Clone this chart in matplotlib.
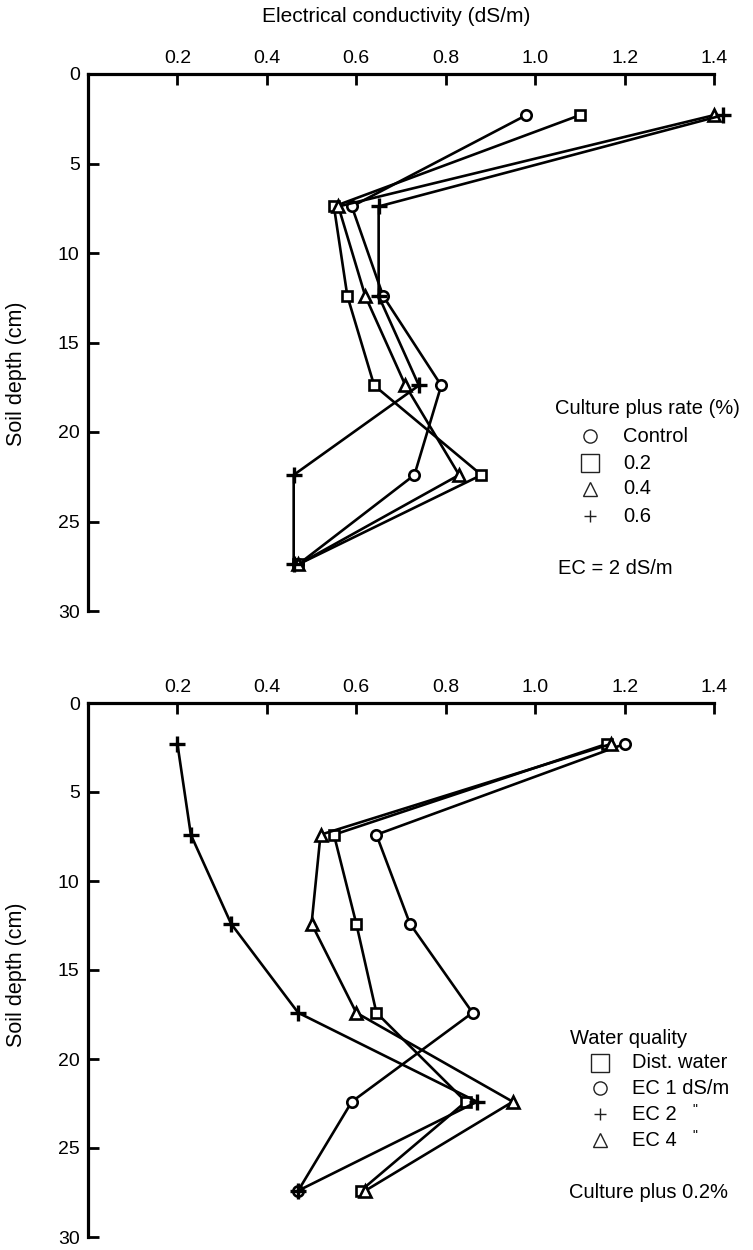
import matplotlib
matplotlib.use("Agg")
import matplotlib.pyplot as plt
from matplotlib.lines import Line2D

plt.rcParams['font.family'] = ['Liberation Sans', 'DejaVu Sans']

depth = [2.3, 7.4, 12.4, 17.4, 22.4, 27.4]

# top panel: culture plus rate, EC = 2 dS/m
top_labels = ['Control', '0.2', '0.4', '0.6']
top_markers = ['o', 's', '^', '+']
top_control = [0.98, 0.59, 0.66, 0.79, 0.73, 0.47]
top_02 = [1.10, 0.55, 0.58, 0.64, 0.88, 0.47]
top_04 = [1.40, 0.56, 0.62, 0.71, 0.83, 0.47]
top_06 = [1.42, 0.65, 0.65, 0.74, 0.46, 0.46]

# bottom panel: water quality, culture plus 0.2%
bot_labels = ['Dist. water', 'EC 1 dS/m', 'EC 2', 'EC 4']
bot_markers = ['s', 'o', '+', '^']
bot_dist = [1.16, 0.55, 0.60, 0.645, 0.845, 0.61]
bot_ec1 = [1.20, 0.645, 0.72, 0.86, 0.59, 0.47]
bot_ec2 = [0.20, 0.23, 0.32, 0.47, 0.87, 0.47]
bot_ec4 = [1.17, 0.52, 0.50, 0.60, 0.95, 0.62]

xticks = [0.2, 0.4, 0.6, 0.8, 1.0, 1.2, 1.4]
yticks = [0, 5, 10, 15, 20, 25, 30]

W, H = 753, 1250
fig = plt.figure(figsize=(W / 100, H / 100), dpi=100)
ax1 = fig.add_axes([88 / W, 1 - 611 / H, 626 / W, 537 / H])
ax2 = fig.add_axes([88 / W, 1 - 1237 / H, 626 / W, 534 / H])

FS = 14
FS_LEG = 14.5


def style_axis(ax):
    ax.set_xlim(0, 1.4)
    ax.set_ylim(30, 0)
    ax.xaxis.tick_top()
    ax.set_xticks(xticks)
    ax.set_xticklabels([f'{t:.1f}' for t in xticks])
    ax.set_yticks(yticks)
    for s in ['right', 'bottom']:
        ax.spines[s].set_visible(False)
    for s in ['top', 'left']:
        ax.spines[s].set_linewidth(2.3)
    ax.tick_params(direction='in', length=8, width=2.0, labelsize=FS, pad=6)
    ax.tick_params(axis='x', pad=5)
    ax.set_ylabel('Soil depth (cm)', fontsize=15.5)


def draw_series(ax, xs, marker):
    if marker == '+':
        ax.plot(xs, depth, color='black', lw=1.9, marker='+', ms=11, mew=2.4,
                clip_on=False, zorder=3)
    else:
        ms = 7.5 if marker != '^' else 8
        ax.plot(xs, depth, color='black', lw=1.9, marker=marker, ms=ms,
                mfc='white', mec='black', mew=1.9, clip_on=False, zorder=3)


style_axis(ax1)
style_axis(ax2)
ax1.yaxis.set_label_coords(-0.097, 0.441)
ax2.yaxis.set_label_coords(-0.097, 0.491)

for xs, m in zip([top_control, top_02, top_04, top_06], top_markers):
    draw_series(ax1, xs, m)
for xs, m in zip([bot_dist, bot_ec1, bot_ec2, bot_ec4], bot_markers):
    draw_series(ax2, xs, m)

fig.text(396 / W, 1 - 17 / H, 'Electrical conductivity (dS/m)', fontsize=15,
         ha='center', va='center')


def fx(x):
    return x / W


def fy(y):
    return 1 - y / H


leg_ms = {'o': 9.5, 's': 13.5, '^': 10, '+': 9}


def legend_block(title, labels, markers, x_title, y_title, x_mark, x_lab, rows,
                 note, x_note, y_note):
    fig.text(fx(x_title), fy(y_title), title, fontsize=FS_LEG, ha='left', va='center')
    for lab, m, y in zip(labels, markers, rows):
        fig.add_artist(Line2D([fx(x_mark)], [fy(y)], transform=fig.transFigure,
                              marker=m, ms=leg_ms[m], mfc='white', mec='#222222',
                              mew=1.0, ls='none'))
        fig.text(fx(x_lab), fy(y), lab, fontsize=FS_LEG, ha='left', va='center')
    fig.text(fx(x_note), fy(y_note), note, fontsize=FS_LEG, ha='left', va='center')


legend_block('Culture plus rate (%)', top_labels, top_markers,
             555, 408, 590, 623, [436, 463, 489, 516],
             'EC = 2 dS/m', 558, 568)
legend_block('Water quality', bot_labels, bot_markers,
             570, 1038, 600, 632, [1063, 1088, 1114, 1140],
             'Culture plus 0.2%', 569, 1193)
# ditto marks after EC 2 and EC 4
fig.text(fx(692), fy(1110), '"', fontsize=10, ha='left', va='center')
fig.text(fx(692), fy(1136), '"', fontsize=10, ha='left', va='center')

fig.savefig('out.png', dpi=100)
